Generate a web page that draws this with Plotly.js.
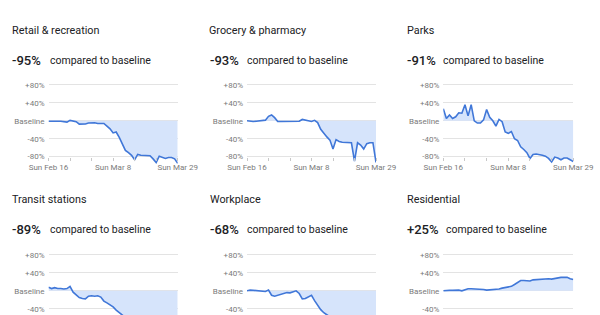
<!DOCTYPE html>
<html><head><meta charset="utf-8">
<script src="https://cdn.plot.ly/plotly-3.0.1.min.js"></script>
<style>html,body{margin:0;padding:0;background:#fff}#chart{width:600px;height:315px}</style>
</head><body><div id="chart"></div>
<script>
// ---- data ----
const categories = ['Retail & recreation','Grocery & pharmacy','Parks','Transit stations','Workplace','Residential'];
const headline = ['-95%','-93%','-91%','-89%','-68%','+25%'];
const startDate = '2020-02-16';
const retail = [-1,-1.5,-1.5,-1,-1,-1.5,-3,1,-1,-2,-7.5,-7.5,-7,-5,-4.5,-4.5,-6,-6,-6,-12,-18,-27,-25,-37,-51,-66,-71,-77,-87,-75,-77,-77,-78,-78,-85,-93,-79,-81,-84,-82,-82,-85,-95];
const grocery = [0,-1,-1.5,-1,0,1,1.5,10,13,7,-1.5,-1.5,-1.5,-1,-1,-1.5,-2,-1,3,1.5,0,-1.5,1,-4,-19,-28,-36,-43,-63,-42,-46,-48,-48,-48,-49,-90,-49,-54,-63,-51,-49,-49,-93];
const parks = [27,5,13,5,9,18,17,36,11,36,0,-5,-5,2,25,8,0,-12,3,-2,-25,-28,-24,-40,-44,-58,-64,-71,-84,-75,-74,-75,-77,-79,-84,-92,-81,-83,-87,-83,-83,-87,-91];
const transit = [8,5,7,5,5,4,5,10,-3,-8,-15,-17,-18,-12,-11,-12,-11,-14,-23,-27,-31,-36,-43,-49,-56,-62,-70,-76,-80,-82,-83,-84,-85,-85,-87,-90,-86,-87,-88,-88,-87,-88,-89];
const workplace = [0,1.5,1,0,-1,-1,-1.5,1.5,-10,-12,-10,-8,-6,-4,-4.5,-1.5,0,-6,-18,-17,-13,-10,-22,-32,-42,-49,-54,-58,-60,-62,-64,-65,-66,-67,-68,-70,-66,-67,-68,-69,-68,-68,-68];
const residential = [0,1,1,1,1.5,1.5,0,3,4.5,4.5,4.5,4.5,4.5,3,1.5,2,2,3,4,6,7,7.5,10,14,18.5,23,23,23,22,24.5,25,26,27,27.5,27,26,27.5,28,30,30,30,27,25];
const series = [retail, grocery, parks, transit, workplace, residential];
const xTickVals = ['2020-02-16','2020-02-23','2020-03-01','2020-03-08','2020-03-15','2020-03-22','2020-03-29'];
const xTickText = ['Sun Feb 16','','','Sun Mar 8','','','Sun Mar 29'];
const yTickVals = [-80,-40,0,40,80];
const yTickText = ['-80%','-40%','Baseline','+40%','+80%'];

// dates
const dates = [];
{
  const d0 = new Date(startDate + 'T00:00:00Z');
  for (let i = 0; i < retail.length; i++) {
    const d = new Date(d0.getTime() + i * 86400000);
    dates.push(d.toISOString().slice(0,10));
  }
}

// ---- layout geometry (pixels) ----
const W = 600, H = 315;
const colLeft = [48.5, 247, 443.3];
const colRight = [177.7, 376, 573.3];
const titleX = [[10, 207.3, 405],[10, 208.3, 405]];
const numX = [[10, 208.3, 405],[10, 208.3, 405]];
const cmpX = [[48, 245, 440.7],[48.3, 245, 444]];
const baseY = [120.8, 290.8];
const titleY = [30.5, 199.5];
const numY = [60, 229];
const pxPer = 0.448;
const FONT = 'Roboto, Arial, sans-serif';

const px = x => x / W;
const py = y => 1 - y / H;

const traces = [];
const layout = {
  width: W, height: H,
  margin: {l:0, r:0, t:0, b:0},
  paper_bgcolor: '#ffffff', plot_bgcolor: '#ffffff',
  showlegend: false,
  font: {family: FONT},
  annotations: []
};

for (let i = 0; i < 6; i++) {
  const row = Math.floor(i / 3), col = i % 3;
  const n = i + 1;
  const xa = 'xaxis' + (n === 1 ? '' : n), ya = 'yaxis' + (n === 1 ? '' : n);
  const xr = 'x' + (n === 1 ? '' : n), yr = 'y' + (n === 1 ? '' : n);
  const base = baseY[row];
  const topPy = base - 86.7 * pxPer;
  const botPy = row === 0 ? base + 101 * pxPer : H;
  const yMin = -(botPy - base) / pxPer;
  const yMax = (base - topPy) / pxPer;

  traces.push({
    type: 'scatter', mode: 'lines', x: dates, y: series[i],
    xaxis: xr, yaxis: yr,
    line: {color: '#4077d8', width: 1.6},
    fill: 'tozeroy', fillcolor: '#d6e4fb',
    hoverinfo: 'skip'
  });

  const xAxis = {
    type: 'date',
    domain: [px(colLeft[col]), px(colRight[col])],
    range: [dates[0], dates[dates.length - 1]],
    showgrid: false, zeroline: false, showline: false,
    fixedrange: true
  };
  if (row === 0) {
    Object.assign(xAxis, {
      anchor: 'free',
      position: py(base + 80 * pxPer),
      tickmode: 'array', tickvals: xTickVals, ticktext: xTickText,
      ticks: 'outside', ticklen: 3, tickcolor: '#c8c8c8', tickwidth: 1,
      tickfont: {family: FONT, size: 8, color: '#7a7a7a'}
    });
  } else {
    Object.assign(xAxis, {anchor: yr, showticklabels: false, ticks: ''});
  }
  layout[xa] = xAxis;

  layout[ya] = {
    anchor: xr,
    domain: [py(botPy), py(topPy)],
    range: [yMin, yMax],
    tickmode: 'array', tickvals: yTickVals, ticktext: yTickText,
    showgrid: true, gridcolor: '#e3e3e3', gridwidth: 1,
    zeroline: false, showline: false, ticks: '',
    ticklabelstandoff: 3,
    tickfont: {family: FONT, size: 8, color: '#7a7a7a'},
    fixedrange: true
  };

  layout.annotations.push({
    xref: 'paper', yref: 'paper', x: px(titleX[row][col]), y: py(titleY[row]),
    xanchor: 'left', yanchor: 'middle', showarrow: false,
    text: categories[i], font: {family: FONT, size: 10.8, color: '#202124'}
  });
  layout.annotations.push({
    xref: 'paper', yref: 'paper', x: px(numX[row][col]), y: py(numY[row]),
    xanchor: 'left', yanchor: 'middle', showarrow: false,
    text: headline[i], font: {family: FONT, size: 13, weight: 500, color: '#202124'}
  });
  layout.annotations.push({
    xref: 'paper', yref: 'paper', x: px(cmpX[row][col]), y: py(numY[row]),
    xanchor: 'left', yanchor: 'middle', showarrow: false,
    text: 'compared to baseline', font: {family: FONT, size: 10.5, color: '#202124'}
  });
}

Plotly.newPlot('chart', traces, layout, {staticPlot: true, displayModeBar: false});
</script>
</body></html>
